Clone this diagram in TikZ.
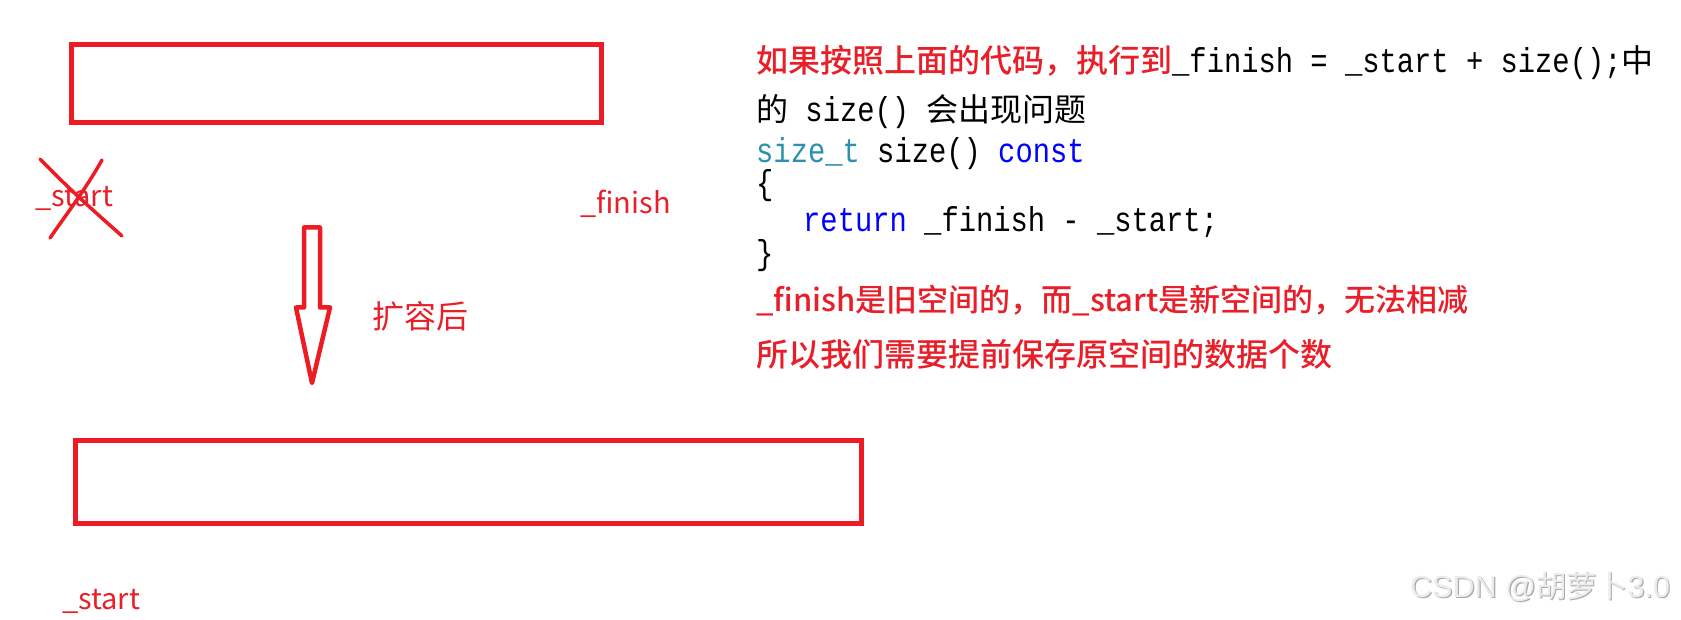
\documentclass[tikz,border=0pt]{standalone}
\usepackage{fontspec}
\setmainfont{Liberation Sans}
\newfontfamily\cjkf{Noto Sans CJK SC}
\newfontfamily\cjkm{Noto Sans CJK SC Medium}
\newfontfamily\codef[FakeStretch=0.835]{Liberation Mono}
\newfontfamily\lsansf{Liberation Sans}
\definecolor{pred}{RGB}{237,28,36}
\definecolor{tred}{RGB}{232,30,40}
\definecolor{kwblue}{RGB}{0,0,255}
\definecolor{tyteal}{RGB}{43,145,175}
\definecolor{wmlight}{RGB}{236,236,236}
\definecolor{wmdark}{RGB}{170,170,170}
\newcommand\szA{\fontsize{32}{38}\selectfont}
\newcommand\szB{\fontsize{31}{37}\selectfont}
\newcommand\szC{\fontsize{34.5}{40}\selectfont}
\newcommand\szL{\fontsize{29}{34}\selectfont}
\tikzset{
  box/.style={draw=pred, line width=5pt, inner sep=0pt},
  lbl/.style={inner sep=0pt, anchor=base west, text=tred, font=\cjkf\szL},
  txt/.style={inner sep=0pt, anchor=base west},
  cross/.style={draw=pred, line width=3.5pt, line cap=round},
}
\begin{document}
\begin{tikzpicture}[x=1pt,y=-1pt]
\useasboundingbox (0,0) rectangle (1681,620);
% top (old) buffer
\node[box, minimum width=530.7pt, minimum height=77.7pt, anchor=north west] (old) at (68.5,42.5) {};
% bottom (new) buffer
\node[box, minimum width=786.5pt, minimum height=83pt, anchor=north west] (new) at (72.5,437.5) {};
% labels
\node[lbl] (s1) at (35,207) {\_start};
\node[lbl] (f1) at (580,214) {\_finish};
\node[lbl] (s2) at (62,609) {\_start};
% cross over old _start
\coordinate (c1a) at (40,159); \coordinate (c1b) at (122,236);
\coordinate (c2a) at (102,160); \coordinate (c2b) at (50,238);
\draw[cross] (c1a) .. controls (70,190) and (95,212) .. (c1b);
\draw[cross] (c2a) .. controls (85,190) and (68,212) .. (c2b);
% block arrow
\draw[draw=pred, line width=4.5pt, line join=round]
  (304,227.5) -- (320,227.5) -- (320,307.5) -- (330,307.5) -- (312,383)
  -- (296,307.5) -- (304,307.5) -- cycle;
\node[txt, text=tred, font=\cjkf\szA] (exp) at (372,328) {扩容后};
% right text block
\node[txt] (l1) at (756,73) {{\cjkm\szA\color{tred}如果按照上面的代码，执行到}{\codef\szC\_finish = \_start + size();}{\cjkf\szA 中}};
\node[txt] (l2) at (756,122) {{\cjkf\szA 的}{\codef\szC\ size()\ }{\cjkf\szA 会出现问题}};
\node[txt, font=\codef\szC] (l3) at (756,163) {{\color{tyteal}size\_t} size() {\color{kwblue}const}};
\node[txt, font=\codef\szC] (l4) at (756,195) {\{};
\node[txt, font=\codef\szC] (l5) at (803,232) {{\color{kwblue}return} \_finish - \_start;};
\node[txt, font=\codef\szC] (l6) at (756,265) {\}};
\node[txt, text=tred, font=\cjkm\szB] (l7) at (756,312) {\_finish是旧空间的，而\_start是新空间的，无法相减};
\node[txt, text=tred, font=\cjkm\szA] (l8) at (756,366) {所以我们需要提前保存原空间的数据个数};
% watermark
\node[txt, text=wmdark, font=\fontsize{30.5}{36}\selectfont] (wms) at (1411.2,598.2) {{\lsansf CSDN @}{\cjkf 胡萝卜}{\lsansf 3.0}};
\node[txt, text=wmlight, font=\fontsize{30.5}{36}\selectfont] (wm) at (1410,597) {{\lsansf CSDN @}{\cjkf 胡萝卜}{\lsansf 3.0}};
\end{tikzpicture}
\end{document}
